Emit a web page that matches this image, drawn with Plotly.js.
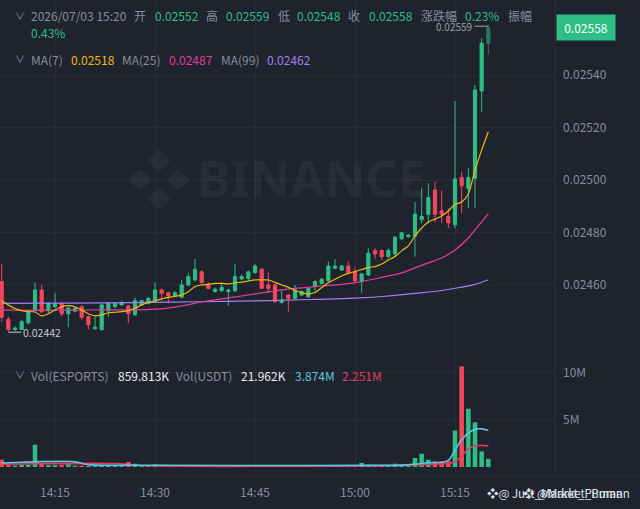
<!DOCTYPE html>
<html><head><meta charset="utf-8">
<script src="https://cdn.plot.ly/plotly-3.0.1.min.js"></script>
<style>html,body{margin:0;padding:0;background:#1f232d;overflow:hidden}#chart{width:640px;height:509px}</style>
</head><body><div id="chart"></div>
<script>
const day = '2026-07-03';
const times = ['14:07','14:08','14:09','14:10','14:11','14:12','14:13','14:14','14:15','14:16',
'14:17','14:18','14:19','14:20','14:21','14:22','14:23','14:24','14:25','14:26',
'14:27','14:28','14:29','14:30','14:31','14:32','14:33','14:34','14:35','14:36',
'14:37','14:38','14:39','14:40','14:41','14:42','14:43','14:44','14:45','14:46',
'14:47','14:48','14:49','14:50','14:51','14:52','14:53','14:54','14:55','14:56',
'14:57','14:58','14:59','15:00','15:01','15:02','15:03','15:04','15:05','15:06',
'15:07','15:08','15:09','15:10','15:11','15:12','15:13','15:14','15:15','15:16',
'15:17','15:18','15:19','15:20'];
const open = [0.024613,0.024469,0.024430,0.024430,0.024456,0.024502,0.024581,0.024502,0.024517,0.024530,
0.024490,0.024500,0.024517,0.024479,0.024433,0.024429,0.024502,0.024517,0.024524,0.024520,
0.024486,0.024524,0.024530,0.024536,0.024581,0.024570,0.024558,0.024553,0.024600,0.024619,
0.024650,0.024600,0.024575,0.024578,0.024575,0.024578,0.024623,0.024625,0.024647,0.024660,
0.024600,0.024600,0.024533,0.024562,0.024549,0.024562,0.024555,0.024594,0.024606,0.024616,
0.024664,0.024657,0.024672,0.024650,0.024613,0.024638,0.024731,0.024731,0.024708,0.024718,
0.024776,0.024784,0.024786,0.024849,0.024869,0.024962,0.024882,0.024861,0.024829,0.025010,
0.024968,0.025006,0.025339,0.025520];
const high = [0.024679,0.024479,0.024442,0.024466,0.024506,0.024610,0.024600,0.024534,0.024570,0.024536,
0.024517,0.024517,0.024522,0.024484,0.024479,0.024530,0.024534,0.024533,0.024540,0.024524,
0.024552,0.024544,0.024555,0.024610,0.024586,0.024574,0.024576,0.024619,0.024646,0.024699,
0.024656,0.024610,0.024590,0.024610,0.024586,0.024680,0.024640,0.024654,0.024680,0.024664,
0.024648,0.024604,0.024578,0.024566,0.024600,0.024579,0.024590,0.024617,0.024626,0.024689,
0.024699,0.024676,0.024690,0.024667,0.024646,0.024740,0.024740,0.024735,0.024740,0.024786,
0.024803,0.024794,0.024917,0.024968,0.024987,0.024994,0.024960,0.024892,0.025301,0.025032,
0.025047,0.025362,0.025540,0.025590];
const low = [0.024460,0.024420,0.024424,0.024428,0.024450,0.024498,0.024493,0.024493,0.024512,0.024482,
0.024439,0.024496,0.024468,0.024430,0.024430,0.024429,0.024478,0.024512,0.024520,0.024455,
0.024482,0.024520,0.024526,0.024532,0.024540,0.024530,0.024554,0.024550,0.024596,0.024615,
0.024605,0.024583,0.024570,0.024574,0.024520,0.024574,0.024619,0.024615,0.024643,0.024583,
0.024570,0.024532,0.024529,0.024498,0.024545,0.024558,0.024551,0.024575,0.024602,0.024612,
0.024660,0.024653,0.024643,0.024612,0.024570,0.024634,0.024700,0.024695,0.024702,0.024708,
0.024772,0.024780,0.024708,0.024835,0.024835,0.024840,0.024835,0.024816,0.024816,0.024873,
0.024892,0.024892,0.025260,0.025480];
const close = [0.024477,0.024430,0.024436,0.024460,0.024502,0.024581,0.024498,0.024530,0.024530,0.024490,
0.024512,0.024512,0.024477,0.024448,0.024439,0.024524,0.024530,0.024530,0.024533,0.024490,
0.024540,0.024540,0.024549,0.024581,0.024568,0.024558,0.024570,0.024600,0.024632,0.024660,
0.024609,0.024587,0.024584,0.024591,0.024581,0.024632,0.024632,0.024650,0.024672,0.024587,
0.024587,0.024536,0.024543,0.024549,0.024581,0.024575,0.024587,0.024613,0.024622,0.024672,
0.024672,0.024672,0.024647,0.024616,0.024642,0.024721,0.024718,0.024708,0.024731,0.024782,
0.024799,0.024790,0.024870,0.024861,0.024933,0.024869,0.024869,0.024837,0.025004,0.024978,
0.025010,0.025343,0.025521,0.025580];
// volume in millions of ESPORTS
const volume = [0.78,0.25,0.14,0.25,0.25,2.37,0.35,0.20,0.20,0.22,
0.30,0.14,0.15,0.12,0.10,0.18,0.12,0.15,0.10,0.53,
0.35,0.15,0.12,0.28,0.20,0.15,0.12,0.18,0.15,0.20,
0.12,0.10,0.10,0.12,0.08,0.15,0.10,0.12,0.15,0.18,
0.12,0.15,0.10,0.12,0.10,0.08,0.10,0.12,0.10,0.15,
0.12,0.10,0.12,0.15,0.43,0.25,0.15,0.15,0.20,0.35,
0.20,0.25,0.96,1.41,0.78,0.60,0.60,0.60,3.88,10.70,
6.20,4.75,1.66,0.86];
const ma7 = [0.024540,0.024524,0.024510,0.024502,0.024498,0.024497,0.024482,0.024490,0.024505,0.024517,
0.024521,0.024517,0.024505,0.024490,0.024482,0.024486,0.024494,0.024496,0.024498,0.024502,
0.024511,0.024524,0.024533,0.024540,0.024547,0.024553,0.024556,0.024562,0.024574,0.024594,
0.024600,0.024602,0.024606,0.024606,0.024604,0.024608,0.024611,0.024615,0.024619,0.024619,
0.024619,0.024610,0.024600,0.024591,0.024579,0.024571,0.024566,0.024571,0.024590,0.024608,
0.024622,0.024634,0.024644,0.024651,0.024659,0.024667,0.024670,0.024680,0.024695,0.024708,
0.024730,0.024749,0.024787,0.024817,0.024840,0.024851,0.024863,0.024882,0.024907,0.024916,
0.024947,0.025038,0.025114,0.025184];
const ma25Times = ['14:07','14:12','14:17','14:22','14:27','14:31','14:34','14:37','14:40','14:43','14:46','14:49','14:52','14:55','14:58','15:01','15:04','15:07','15:09','15:11','15:13','15:15','15:17','15:18','15:19','15:20'];
const ma25 = [0.024505,0.024503,0.024504,0.024505,0.024505,0.024509,0.024520,0.024535,0.024547,0.024558,0.024570,0.024581,0.024589,0.024596,0.024602,0.024613,0.024629,0.024646,0.024665,0.024684,0.024703,0.024733,0.024779,0.024810,0.024840,0.024872];
const ma99Times = ['14:07','14:17','14:27','14:37','14:47','14:54','15:00','15:05','15:09','15:13','15:16','15:18','15:20'];
const ma99 = [0.024530,0.024531,0.024533,0.024536,0.024540,0.024545,0.024550,0.024558,0.024568,0.024579,0.024592,0.024602,0.024620];
const volMa5Times = ['14:07','14:10','14:12','14:18','14:20','14:26','14:32','14:47','15:02','15:07','15:09','15:11','15:13','15:14','15:15','15:16','15:17','15:18','15:19','15:20'];
const volMa5 = [0.41,0.50,0.55,0.55,0.25,0.20,0.18,0.16,0.17,0.20,0.30,0.45,0.50,0.70,1.80,2.90,3.60,4.00,4.05,3.874];
const volMa10Times = ['14:07','14:12','14:25','14:27','15:07','15:12','15:14','15:15','15:16','15:17','15:18','15:19','15:20'];
const volMa10 = [0.30,0.34,0.34,0.18,0.18,0.30,0.40,0.55,1.20,1.90,2.25,2.28,2.251];
const timeTicks = ['14:15','14:30','14:45','15:00','15:15'];
const priceTicks = [0.0246,0.0248,0.0250,0.0252,0.0254];
const volTicks = [5,10];
const volTickText = ['5M','10M'];
const lastVolText = '859.813K';
const lastQuoteVolText = '21.962K';
const changePct = '0.23%';
const amplitudePct = '0.43%';

const G = '#2ebd85', R = '#f6465d', GRAY = '#848e9c';
const F = '"Noto Sans CJK SC", "Noto Sans", sans-serif';
const T = t => day + ' ' + t;
const n = times.length;
const X = times.map(T);
const body = times.slice(0, n - 1).map(T);

const traces = [
  {type:'candlestick', x: body, open: open.slice(0,n-1), high: high.slice(0,n-1), low: low.slice(0,n-1), close: close.slice(0,n-1),
   increasing:{line:{color:G,width:1},fillcolor:G}, decreasing:{line:{color:R,width:1},fillcolor:R},
   whiskerwidth:0, hoverinfo:'skip', showlegend:false, xaxis:'x', yaxis:'y'},
  {type:'candlestick', x: [X[n-1]], open:[open[n-1]], high:[high[n-1]], low:[low[n-1]], close:[close[n-1]],
   increasing:{line:{color:'#237a5d',width:1},fillcolor:'#237a5d'}, decreasing:{line:{color:R,width:1},fillcolor:R},
   whiskerwidth:0, hoverinfo:'skip', showlegend:false, xaxis:'x', yaxis:'y'},
  {type:'scatter', mode:'lines', x: ma99Times.map(T), y: ma99, line:{color:'#a77ff0', width:1.2, shape:'spline'}, hoverinfo:'skip', showlegend:false, yaxis:'y'},
  {type:'scatter', mode:'lines', x: ma25Times.map(T), y: ma25, line:{color:'#e23d9e', width:1.2, shape:'spline'}, hoverinfo:'skip', showlegend:false, yaxis:'y'},
  {type:'scatter', mode:'lines', x: X, y: ma7, line:{color:'#f0b90b', width:1.2, shape:'spline', smoothing:0.8}, hoverinfo:'skip', showlegend:false, yaxis:'y'},
  {type:'bar', x: X, y: volume, marker:{color: close.map((c,i)=> c >= open[i] ? G : R), line:{width:0}}, hoverinfo:'skip', showlegend:false, yaxis:'y2'},
  {type:'scatter', mode:'lines', x: volMa10Times.map(T), y: volMa10, line:{color:'#e43a5e', width:1.6, shape:'spline'}, hoverinfo:'skip', showlegend:false, yaxis:'y2'},
  {type:'scatter', mode:'lines', x: volMa5Times.map(T), y: volMa5, line:{color:'#5cc6df', width:1.6, shape:'spline'}, hoverinfo:'skip', showlegend:false, yaxis:'y2'}
];

const PW = 555, PH = 476;
const px = v => v / PW, py = v => 1 - v / PH;
function txt(s, x, y, color, size, extra) {
  return Object.assign({xref:'paper', yref:'paper', x:px(x), y:py(y), xanchor:'left', yanchor:'middle',
    text:s, showarrow:false, borderpad:0, font:{family:F, size:size||12, color:color}}, extra||{});
}
const f5 = v => v.toFixed(5);
const WM = 'rgba(255,255,255,0.045)';
const annotations = [
  txt('∨', 14, 15, GRAY, 10),
  txt('2026/07/03 ' + times[n-1], 30, 16, GRAY),
  txt('开', 133, 16, GRAY), txt(f5(open[n-1]), 154, 16, G),
  txt('高', 205, 16, GRAY), txt(f5(high[n-1]), 225, 16, G),
  txt('低', 277, 16, GRAY), txt(f5(low[n-1]), 296, 16, G),
  txt('收', 347, 16, GRAY), txt(f5(close[n-1]), 368, 16, G),
  txt('涨跌幅', 420, 16, GRAY), txt(changePct, 464, 16, G),
  txt('振幅', 507, 16, GRAY),
  txt(amplitudePct, 30, 33, G),
  txt('∨', 14, 58, GRAY, 10),
  txt('MA(7)', 30, 59, GRAY), txt(f5(ma7[n-1]), 70, 59, '#f0b90b'),
  txt('MA(25)', 121, 59, GRAY), txt(f5(ma25[ma25.length-1]), 168, 59, '#e23d9e'),
  txt('MA(99)', 220, 59, GRAY), txt(f5(ma99[ma99.length-1]), 266, 59, '#a77ff0'),
  txt('∨', 14, 374, GRAY, 10),
  txt('Vol(ESPORTS)', 30, 375, GRAY), txt(lastVolText, 117, 375, '#eaecef'),
  txt('Vol(USDT)', 175, 375, GRAY), txt(lastQuoteVolText, 240, 375, '#eaecef'),
  txt(volMa5[volMa5.length-1].toFixed(3) + 'M', 294, 375, '#5cc6df'),
  txt(volMa10[volMa10.length-1].toFixed(3) + 'M', 341, 375, '#e43a5e'),
  txt('❖', 126, 176, WM, 64),
  txt('BINANCE', 196, 178, WM, 50, {font:{family:'"Noto Sans", sans-serif', size:50, color:WM, weight:700}}),
  txt('❖@ Just_Market_Puman', 486, 493, '#dfe2e7', 11.5),
  txt('❖ @Market_Puman', 522, 493, '#dfe2e7', 11.5),
  {xref:'paper', yref:'y', x:1, xanchor:'left', xshift:1, y: close[n-1], yanchor:'middle', text: f5(close[n-1]),
   showarrow:false, bgcolor:G, borderpad:4, width:50, font:{family:F, size:12, color:'#ffffff'}},
  {xref:'x', yref:'y', x: X[n-1], y: high[n-1], text: f5(high[n-1]), showarrow:true, arrowhead:0, arrowwidth:1,
   arrowcolor:'#9aa0a8', ax:-14, ay:0, xanchor:'right', yanchor:'middle', yshift:-1, standoff:0, borderpad:1,
   font:{family:F, size:10, color:'#9aa0a8'}},
  {xref:'x', yref:'y', x: X[1], y: low[1], text: f5(low[1]), showarrow:true, arrowhead:0, arrowwidth:1,
   arrowcolor:'#c5c9d0', ax:13, ay:0, xanchor:'left', yanchor:'middle', standoff:0, borderpad:1,
   font:{family:F, size:10.5, color:'#c5c9d0'}}
];

const LINE = '#2b2f39';
const shapes = [
  {type:'line', xref:'paper', yref:'paper', x0:0, x1:640/PW, y0:py(360), y1:py(360), line:{color:LINE, width:1}},
  {type:'line', xref:'paper', yref:'paper', x0:0, x1:640/PW, y0:0, y1:0, line:{color:LINE, width:1}},
  {type:'line', xref:'paper', yref:'paper', x0:1, x1:1, y0:0, y1:1, line:{color:LINE, width:1}}
];

const split = (PH - 360) / PH;
const layout = {
  width:640, height:509, margin:{l:0, r:85, t:0, b:33},
  paper_bgcolor:'#1f232d', plot_bgcolor:'#1f232d',
  showlegend:false, dragmode:false, boxgap:0.32, bargap:0.32,
  font:{family:F, color:GRAY, size:12},
  xaxis:{type:'date', range:[T('14:06:45'), T('15:30:00')], anchor:'y2', showgrid:true, gridcolor:'#272b35',
    tickvals: timeTicks.map(T), ticktext: timeTicks, ticks:'', showline:false, zeroline:false,
    tickfont:{family:F, size:12, color:GRAY}, ticklabelstandoff:8, rangeslider:{visible:false}, fixedrange:true},
  yaxis:{domain:[split, 1], range:[0.024314, 0.025686], side:'right', anchor:'x', showgrid:true, gridcolor:'#272b35',
    tickvals: priceTicks, ticktext: priceTicks.map(f5), ticks:'', zeroline:false, showline:false,
    tickfont:{family:F, size:12, color:GRAY}, ticklabelstandoff:7, fixedrange:true},
  yaxis2:{domain:[0, split], range:[-0.957, 11.38], side:'right', anchor:'x', showgrid:true, gridcolor:'#272b35',
    tickvals: volTicks, ticktext: volTickText, ticks:'', zeroline:false, showline:false,
    tickfont:{family:F, size:12, color:GRAY}, ticklabelstandoff:7, fixedrange:true},
  annotations: annotations, shapes: shapes
};
Plotly.newPlot('chart', traces, layout, {staticPlot:true, displayModeBar:false});
</script></body></html>
